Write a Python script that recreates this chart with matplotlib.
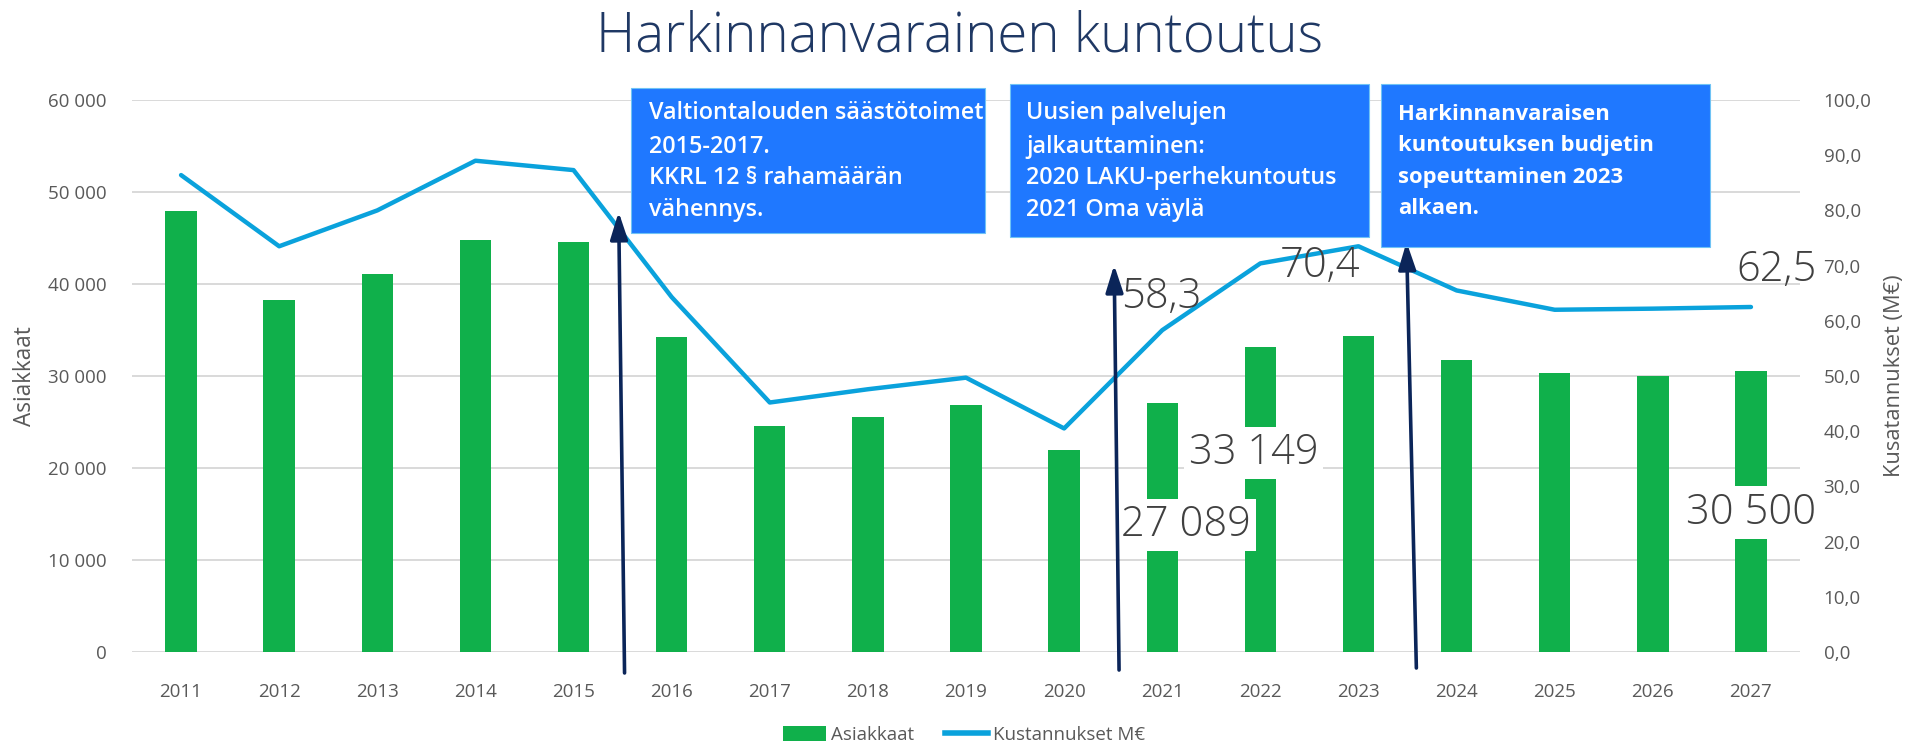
import matplotlib
matplotlib.use("Agg")
import matplotlib.pyplot as plt
from matplotlib.patches import Rectangle, Patch
from matplotlib.lines import Line2D
from matplotlib.ticker import FuncFormatter, MultipleLocator

# ---------------- data ----------------
years = ["2011", "2012", "2013", "2014", "2015", "2016", "2017", "2018", "2019",
         "2020", "2021", "2022", "2023", "2024", "2025", "2026", "2027"]
asiakkaat = [47900, 38300, 41100, 44800, 44600, 34200, 24600, 25500, 26800,
             22000, 27089, 33149, 34400, 31700, 30300, 30000, 30500]
kustannukset = [86.4, 73.5, 80.0, 89.0, 87.3, 64.3, 45.2, 47.6, 49.7,
                40.5, 58.3, 70.4, 73.5, 65.5, 62.0, 62.2, 62.5]

title = "Harkinnanvarainen kuntoutus"
left_label = "Asiakkaat"
right_label = "Kusatannukset (M€)"
legend_labels = ["Asiakkaat", "Kustannukset M€"]

box1_lines = ["Valtiontalouden säästötoimet", "2015-2017.", "KKRL 12 § rahamäärän", "vähennys."]
box2_lines = ["Uusien palvelujen", "jalkauttaminen:", "2020 LAKU-perhekuntoutus", "2021 Oma väylä"]
box3_lines = ["Harkinnanvaraisen", "kuntoutuksen budjetin", "sopeuttaminen 2023", "alkaen."]

bar_label_years = ["2021", "2022", "2027"]
line_label_years = ["2021", "2022", "2027"]

# ---------------- style ----------------
W, H = 1911, 743
FONT = ["Open Sans", "DejaVu Sans"]
plt.rcParams["font.family"] = FONT
GREEN = "#10B04B"
BLUE_LINE = "#0AA2DC"
BOX_BLUE = "#1F78FF"
NAVY = "#0B2559"
GRAY = "#595959"
DGRAY = "#404040"

fig = plt.figure(figsize=(W / 100, H / 100), dpi=100)
fig.patch.set_facecolor("white")


def fx(x):
    return x / W


def fy(y):
    return 1 - y / H


L, R, T, B = 132, 1800, 100, 652
ax = fig.add_axes([fx(L), fy(B), (R - L) / W, (B - T) / H])
ax2 = ax.twinx()

xs = list(range(len(years)))
ax.bar(xs, asiakkaat, width=0.32, color=GREEN, zorder=2)
ax.set_xlim(-0.5, len(years) - 0.5)
ax.set_ylim(0, 60000)
ax.yaxis.set_major_locator(MultipleLocator(10000))
ax.yaxis.set_major_formatter(FuncFormatter(lambda v, p: f"{int(v):,}".replace(",", " ")))
ax.grid(axis="y", color="#D9D9D9", lw=1.4, zorder=0)
ax.set_axisbelow(True)
ax.set_xticks(xs)
ax.set_xticklabels(years)
ax.tick_params(axis="both", length=0, labelsize=13.5, labelcolor=GRAY)
ax.tick_params(axis="x", pad=22)
ax.tick_params(axis="y", pad=18)
for s in ax.spines.values():
    s.set_visible(False)

ax2.plot(xs, kustannukset, color=BLUE_LINE, lw=3.2, zorder=3, solid_capstyle="round")
ax2.set_ylim(0, 100)
ax2.yaxis.set_major_locator(MultipleLocator(10))
ax2.yaxis.set_major_formatter(FuncFormatter(lambda v, p: f"{v:.1f}".replace(".", ",")))
ax2.tick_params(axis="y", length=0, labelsize=13.5, labelcolor=GRAY, pad=17)
for s in ax2.spines.values():
    s.set_visible(False)

ax.set_ylabel(left_label, fontsize=14, color=GRAY, va="center", ha="center")
ax.yaxis.set_label_coords((25 - L) / (R - L), 0.5)
ax2.set_ylabel(right_label, fontsize=14, color=GRAY, rotation=90, va="center", ha="center")
ax2.yaxis.set_label_coords((1894 - L) / (R - L), 0.5)

renderer = fig.canvas.get_renderer()


def fit(t, target_w):
    bb = t.get_window_extent(renderer)
    t.set_fontsize(t.get_fontsize() * target_w / bb.width)


def fit_h(t, target_h):
    bb = t.get_window_extent(renderer)
    t.set_fontsize(t.get_fontsize() * target_h / bb.height)


fit_h(ax.yaxis.label, 100)
fit_h(ax2.yaxis.label, 203)

# ---------------- title ----------------
tt = fig.text(fx(959.5), fy(37), title, ha="center", va="center", color="#1F3864",
              fontsize=40, fontweight="light")
fit(tt, 725)

# ---------------- data labels ----------------
big = 30
bar_offsets = {"2021": (24, -122), "2022": (-7, -106), "2027": (0, -141)}
for yr in bar_label_years:
    i = years.index(yr)
    v = asiakkaat[i]
    ax2.annotate(f"{v:,}".replace(",", " "), xy=(i, v / 600.0), xytext=bar_offsets[yr],
                 textcoords="offset pixels", ha="center", va="center", fontsize=big,
                 color=DGRAY, zorder=5, fontweight="light",
                 bbox=dict(boxstyle="square,pad=0.12", fc="white", ec="none"))

line_offsets = {"2021": (-1, 33), "2022": (60, -2), "2027": (26, 37)}
for yr in line_label_years:
    i = years.index(yr)
    v = kustannukset[i]
    ax2.annotate(f"{v:.1f}".replace(".", ","), xy=(i, v), xytext=line_offsets[yr],
                 textcoords="offset pixels", ha="center", va="center", fontsize=big,
                 color=DGRAY, zorder=5, fontweight="light")

# ---------------- annotation boxes ----------------
def add_box(x0, y0, x1, y1):
    r = Rectangle((fx(x0), fy(y1)), (x1 - x0) / W, (y1 - y0) / H, transform=fig.transFigure,
                  fc=BOX_BLUE, ec="#6FC3F5", lw=0.8, zorder=4)
    fig.add_artist(r)


add_box(631, 88, 985, 233)
add_box(1010, 84, 1369, 237)
add_box(1381, 84, 1710, 247)

t0 = fig.text(fx(649), fy(113), box1_lines[0], ha="left", va="center", color="white",
              fontsize=16, fontweight="semibold", zorder=6)
fit(t0, 336)
fs12 = t0.get_fontsize()
for k, ln in enumerate(box1_lines[1:], start=1):
    fig.text(fx(649), fy([113, 147, 178, 210][k]), ln, ha="left", va="center", color="white",
             fontsize=fs12, fontweight="semibold", zorder=6)
for k, ln in enumerate(box2_lines):
    fig.text(fx(1026), fy([113, 147, 178, 210][k]), ln, ha="left", va="center", color="white",
             fontsize=fs12, fontweight="semibold", zorder=6)

t3 = fig.text(fx(1398), fy(145), box3_lines[1], ha="left", va="center", color="white",
              fontsize=16, fontweight="bold", zorder=6)
fit(t3, 256)
fs3 = t3.get_fontsize()
for k, ln in enumerate(box3_lines):
    if k == 1:
        continue
    fig.text(fx(1398), fy([114, 145, 177, 208.5][k]), ln, ha="left", va="center", color="white",
             fontsize=fs3, fontweight="bold", zorder=6)

# ---------------- arrows ----------------
arrows = [((4.46, 47830), (4.52, -2280)),
          ((9.51, 42070), (9.56, -1960)),
          ((12.49, 44570), (12.59, -1740))]
for tip, base in arrows:
    ax2.annotate("", xy=tip, xytext=base, xycoords=ax.transData, textcoords=ax.transData,
                 annotation_clip=False, zorder=7,
                 arrowprops=dict(arrowstyle="-|>,head_length=0.75,head_width=0.24", color=NAVY,
                                 lw=2.6, shrinkA=0, shrinkB=0, mutation_scale=22))

# ---------------- legend ----------------
handles = [Patch(facecolor=GREEN, edgecolor="none"),
           Line2D([0], [0], color=BLUE_LINE, lw=4)]
fig.legend(handles, legend_labels, loc="center", bbox_to_anchor=(fx(964), fy(735)), ncol=2,
           frameon=False, fontsize=13.5, handlelength=2.3, handleheight=0.8,
           columnspacing=1.6, handletextpad=0.3, labelcolor=GRAY)

fig.savefig("out.png", dpi=100, facecolor="white")
